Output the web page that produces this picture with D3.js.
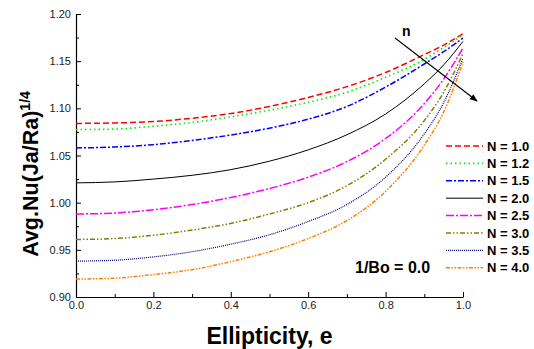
<!DOCTYPE html>
<html>
<head>
<meta charset="utf-8">
<script src="https://cdn.jsdelivr.net/npm/d3@7"></script>
<style>
  body { margin: 0; background: #fff; }
  text { font-family: "Liberation Sans", Arial, sans-serif; }
</style>
</head>
<body>
<svg id="chart" width="534" height="349"></svg>
<script>
const ecc = [0, 0.1, 0.2, 0.3, 0.4, 0.5, 0.6, 0.7, 0.8, 0.9, 0.95, 1.0];

const seriesN = ["1.0", "1.2", "1.5", "2.0", "2.5", "3.0", "3.5", "4.0"];
const n10 = [1.084, 1.0845, 1.086, 1.0895, 1.0945, 1.102, 1.1115, 1.123, 1.138, 1.157, 1.167, 1.179];
const n12 = [1.0775, 1.078, 1.081, 1.085, 1.091, 1.098, 1.1065, 1.117, 1.133, 1.152, 1.1645, 1.178];
const n15 = [1.058, 1.059, 1.0615, 1.066, 1.0717, 1.079, 1.0885, 1.102, 1.1225, 1.147, 1.160, 1.1745];
const n20 = [1.021, 1.022, 1.025, 1.029, 1.035, 1.044, 1.056, 1.072, 1.094, 1.126, 1.146, 1.171];
const n25 = [0.988, 0.989, 0.9925, 0.998, 1.0055, 1.015, 1.027, 1.0435, 1.068, 1.105, 1.131, 1.164];
const n30 = [0.961, 0.962, 0.9655, 0.971, 0.978, 0.988, 1.0, 1.018, 1.046, 1.087, 1.117, 1.158];
const n35 = [0.938, 0.939, 0.9425, 0.948, 0.956, 0.966, 0.980, 0.998, 1.027, 1.073, 1.106, 1.153];
const n40 = [0.919, 0.920, 0.9238, 0.929, 0.9375, 0.948, 0.962, 0.981, 1.012, 1.061, 1.096, 1.149];
const values = [n10, n12, n15, n20, n25, n30, n35, n40];

const xTicks = [0, 0.2, 0.4, 0.6, 0.8, 1.0];
const yTicks = [0.90, 0.95, 1.00, 1.05, 1.10, 1.15, 1.20];

// styles per series
const colors = ["#ff0000", "#00ee00", "#0000ff", "#000000", "#ff00ff", "#808000", "#000080", "#ff8000"];
const dashes = ["6,3", "1.5,3", "6,2,2,2", null, "8,2,2,2", "5,2,1.5,2,1.5,2", "1,1", "4,1.5,1.5,1.5,1.5,1.5"];
const widths = [1.5, 1.6, 1.5, 1, 1.5, 1.5, 1.2, 1.5];

const margin = { top: 14, right: 71, bottom: 52, left: 76 };
const width = 534 - margin.left - margin.right;
const height = 349 - margin.top - margin.bottom;

const svg = d3.select("#chart");
const g = svg.append("g").attr("transform", `translate(${margin.left},${margin.top})`);

const x = d3.scaleLinear().domain([0, 1]).range([0, width]);
const y = d3.scaleLinear().domain([0.9, 1.2]).range([height, 0]);

// minor ticks
g.append("g")
    .attr("transform", `translate(0,${height})`)
    .call(d3.axisBottom(x).tickValues([0.1, 0.3, 0.5, 0.7, 0.9]).tickSize(-3).tickSizeOuter(0).tickFormat(""))
    .call(a => a.select(".domain").remove());
g.append("g")
    .call(d3.axisLeft(y).tickValues(d3.range(0.925, 1.2, 0.05)).tickSize(-3).tickSizeOuter(0).tickFormat(""))
    .call(a => a.select(".domain").remove());

// main axes, ticks pointing inwards
const xAxis = g.append("g")
    .attr("transform", `translate(0,${height})`)
    .call(d3.axisBottom(x).tickValues(xTicks).tickSize(-5).tickSizeOuter(0).tickPadding(5).tickFormat(d3.format(".1f")));
const yAxis = g.append("g")
    .call(d3.axisLeft(y).tickValues(yTicks).tickSize(-5).tickSizeOuter(0).tickPadding(5).tickFormat(d3.format(".2f")));

[xAxis, yAxis].forEach(a => {
    a.selectAll("text").attr("font-size", 11).attr("fill", "#222");
    a.select(".domain").attr("stroke-width", 1.2);
});
xAxis.selectAll("text").attr("dy", "0.6em");

// curves
const line = d3.line()
    .x((d, i) => x(ecc[i]))
    .y(d => y(d))
    .curve(d3.curveMonotoneX);

values.forEach((vals, k) => {
    g.append("path")
        .datum(vals)
        .attr("fill", "none")
        .attr("stroke", colors[k])
        .attr("stroke-width", widths[k])
        .attr("stroke-dasharray", dashes[k])
        .attr("d", line);
});

// legend
const legend = svg.append("g").attr("transform", "translate(446,146)");
seriesN.forEach((n, k) => {
    const row = legend.append("g").attr("transform", `translate(0,${k * 17.4})`);
    row.append("line")
        .attr("x1", 0).attr("x2", 37)
        .attr("stroke", colors[k])
        .attr("stroke-width", widths[k])
        .attr("stroke-dasharray", dashes[k]);
    row.append("text")
        .attr("x", 41).attr("dy", "0.36em")
        .attr("font-size", 13).attr("font-weight", "bold")
        .text(`N = ${n}`);
});

svg.append("text")
    .attr("x", 355).attr("y", 273)
    .attr("font-size", 16).attr("font-weight", "bold")
    .text("1/Bo = 0.0");

// arrow marking increasing n
svg.append("defs").append("marker")
    .attr("id", "arrowhead")
    .attr("viewBox", "0 0 10 10")
    .attr("refX", 9).attr("refY", 5)
    .attr("markerWidth", 7).attr("markerHeight", 7)
    .attr("orient", "auto")
    .append("path")
    .attr("d", "M 0 1 L 10 5 L 0 9 Z")
    .attr("fill", "black");
svg.append("line")
    .attr("x1", 395).attr("y1", 38)
    .attr("x2", 477).attr("y2", 101)
    .attr("stroke", "black").attr("stroke-width", 1.1)
    .attr("marker-end", "url(#arrowhead)");
svg.append("text")
    .attr("x", 402).attr("y", 36)
    .attr("font-size", 14).attr("font-weight", "bold")
    .text("n");

// axis titles
svg.append("text")
    .attr("x", margin.left + width / 2).attr("y", 344)
    .attr("text-anchor", "middle")
    .attr("font-size", 23).attr("font-weight", "bold")
    .text("Ellipticity, e");

const yTitle = svg.append("text")
    .attr("transform", "translate(38,174) rotate(-90)")
    .attr("text-anchor", "middle")
    .attr("font-size", 21.5).attr("font-weight", "bold");
yTitle.append("tspan").text("Avg.Nu(Ja/Ra)");
yTitle.append("tspan").attr("dy", "-0.55em").attr("font-size", 14).text("1/4");
</script>
</body>
</html>
